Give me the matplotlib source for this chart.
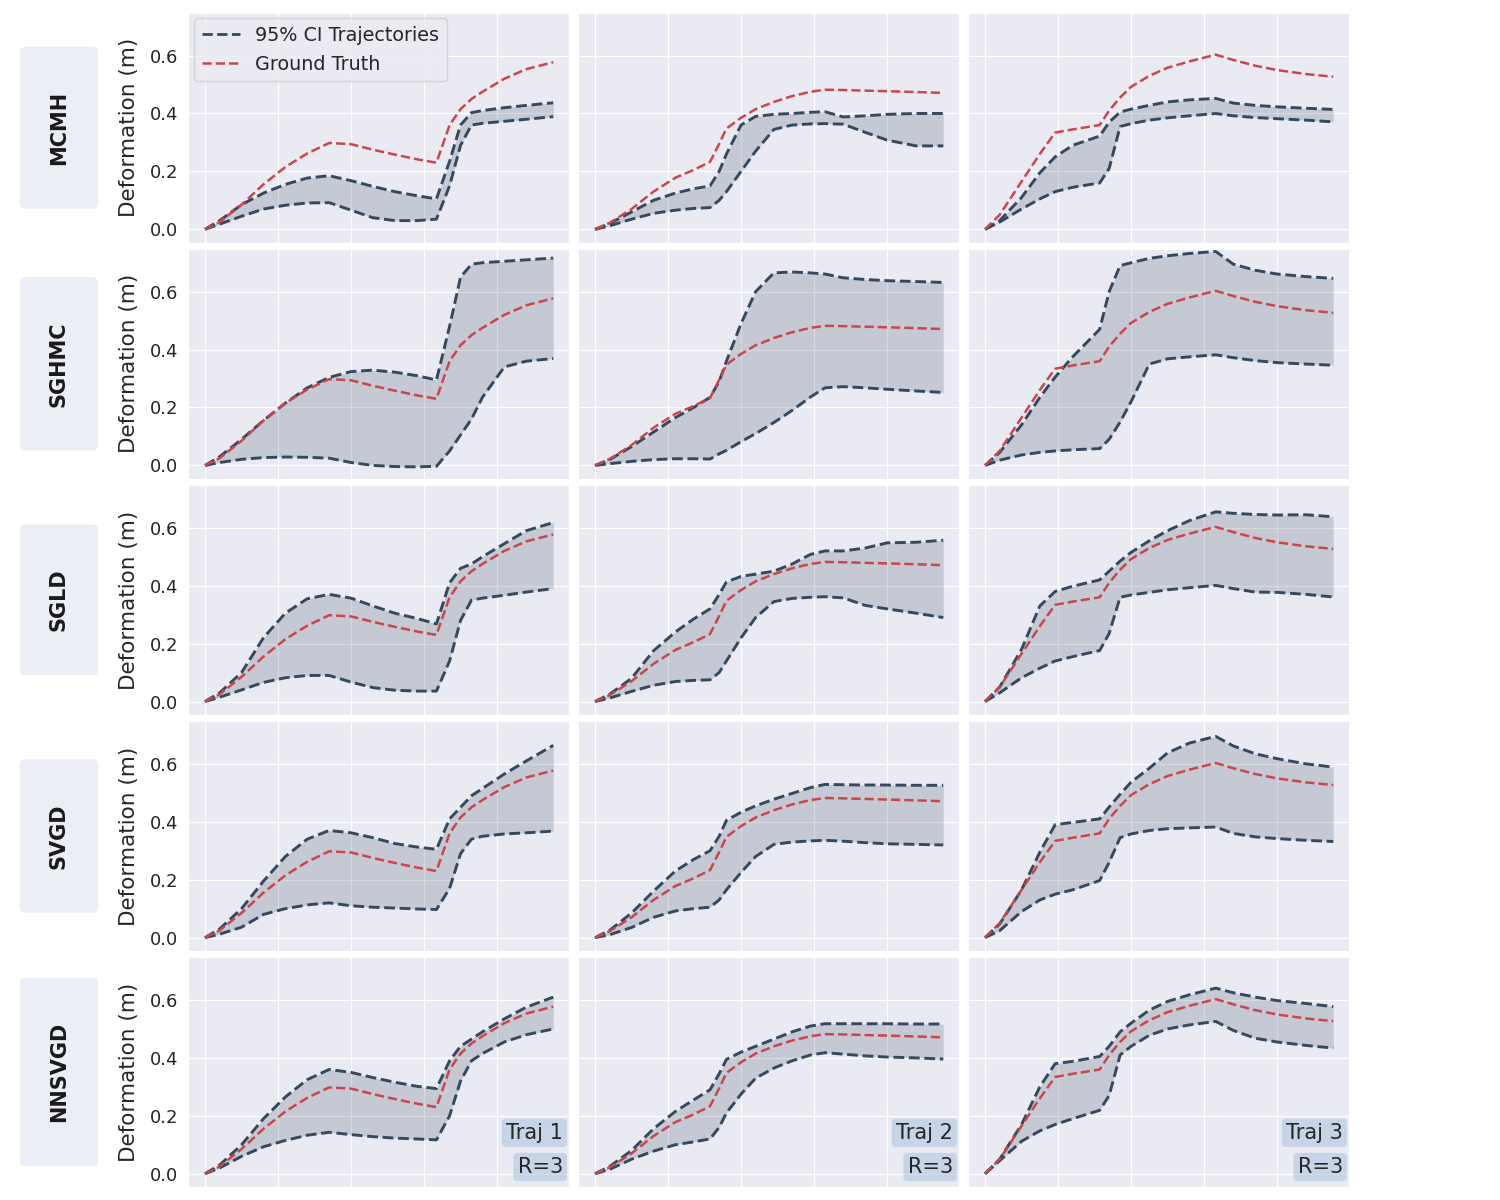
import matplotlib
matplotlib.use("Agg")
import matplotlib.pyplot as plt
import seaborn as sns
from matplotlib.patches import FancyBboxPatch
from matplotlib.lines import Line2D
from matplotlib.ticker import MultipleLocator

# eixo do tempo de cada trajetória (unidades arbitrárias, grade a cada 10)
t1 = [0, 2, 5, 8, 11, 14, 17, 20, 23, 26, 29, 31.7, 33.5, 35, 36.5, 38, 41, 44, 47.7]
t2 = [0, 2, 5, 8, 11, 13.5, 15.75, 17, 18, 20, 22, 24.5, 27, 29.5, 31.5, 34, 37, 40, 44, 47.7]
t3 = [0, 2, 5, 7.5, 9.6, 12, 15.7, 17, 18.5, 20, 22.5, 25, 28, 31.6, 34, 37, 40, 44, 47.7]

# ground truth (igual para todos os métodos)
gt1 = [0, 0.025, 0.085, 0.155, 0.215, 0.262, 0.298, 0.294, 0.275, 0.258, 0.242, 0.23, 0.36, 0.415, 0.45, 0.475, 0.52, 0.553, 0.577]
gt2 = [0, 0.022, 0.07, 0.13, 0.178, 0.205, 0.233, 0.295, 0.348, 0.385, 0.415, 0.44, 0.46, 0.475, 0.482, 0.481, 0.479, 0.477, 0.474, 0.471]
gt3 = [0, 0.05, 0.165, 0.26, 0.334, 0.345, 0.36, 0.41, 0.455, 0.492, 0.53, 0.558, 0.58, 0.603, 0.585, 0.565, 0.55, 0.536, 0.527]

methods = ["MCMH", "SGHMC", "SGLD", "SVGD", "NNSVGD"]

# limites do IC 95% por método: [traj1, traj2, traj3]
mcmh_up = [
    [0, 0.03, 0.085, 0.125, 0.155, 0.177, 0.185, 0.168, 0.148, 0.13, 0.116, 0.105, 0.235, 0.36, 0.403, 0.41, 0.42, 0.428, 0.437],
    [0, 0.02, 0.06, 0.1, 0.125, 0.14, 0.15, 0.2, 0.26, 0.36, 0.39, 0.397, 0.4, 0.404, 0.406, 0.388, 0.392, 0.397, 0.4, 0.4],
    [0, 0.03, 0.11, 0.195, 0.25, 0.29, 0.322, 0.37, 0.405, 0.415, 0.428, 0.44, 0.447, 0.452, 0.436, 0.428, 0.423, 0.418, 0.414],
]
mcmh_lo = [
    [0, 0.018, 0.045, 0.07, 0.083, 0.091, 0.092, 0.066, 0.04, 0.03, 0.03, 0.035, 0.15, 0.29, 0.36, 0.366, 0.373, 0.38, 0.389],
    [0, 0.012, 0.035, 0.055, 0.066, 0.072, 0.075, 0.1, 0.13, 0.2, 0.27, 0.345, 0.36, 0.364, 0.365, 0.363, 0.335, 0.308, 0.288, 0.288],
    [0, 0.025, 0.07, 0.105, 0.13, 0.145, 0.16, 0.21, 0.355, 0.365, 0.377, 0.385, 0.392, 0.4, 0.392, 0.386, 0.382, 0.377, 0.371],
]
sghmc_up = [
    [0, 0.03, 0.09, 0.155, 0.215, 0.268, 0.304, 0.324, 0.329, 0.322, 0.31, 0.295, 0.48, 0.65, 0.695, 0.7, 0.705, 0.71, 0.716],
    [0, 0.02, 0.065, 0.115, 0.165, 0.2, 0.235, 0.29, 0.36, 0.49, 0.6, 0.665, 0.668, 0.665, 0.661, 0.648, 0.642, 0.638, 0.635, 0.632],
    [0, 0.045, 0.14, 0.235, 0.305, 0.375, 0.47, 0.6, 0.69, 0.7, 0.715, 0.724, 0.732, 0.739, 0.695, 0.674, 0.661, 0.652, 0.646],
]
sghmc_lo = [
    [0, 0.01, 0.021, 0.027, 0.029, 0.028, 0.025, 0.01, 0.0, -0.004, -0.005, -0.003, 0.05, 0.105, 0.16, 0.235, 0.34, 0.36, 0.369],
    [0, 0.006, 0.014, 0.02, 0.023, 0.023, 0.022, 0.04, 0.052, 0.082, 0.11, 0.148, 0.19, 0.236, 0.268, 0.272, 0.268, 0.263, 0.257, 0.252],
    [0, 0.018, 0.036, 0.045, 0.05, 0.054, 0.058, 0.09, 0.15, 0.22, 0.35, 0.368, 0.375, 0.382, 0.372, 0.362, 0.355, 0.35, 0.346],
]
sgld_up = [
    [0, 0.03, 0.1, 0.22, 0.305, 0.355, 0.37, 0.357, 0.33, 0.305, 0.287, 0.268, 0.41, 0.46, 0.475, 0.5, 0.545, 0.59, 0.618],
    [0, 0.025, 0.08, 0.175, 0.24, 0.285, 0.32, 0.37, 0.413, 0.432, 0.44, 0.45, 0.475, 0.508, 0.52, 0.52, 0.53, 0.548, 0.55, 0.557],
    [0, 0.05, 0.18, 0.33, 0.38, 0.398, 0.42, 0.45, 0.485, 0.515, 0.555, 0.59, 0.625, 0.655, 0.65, 0.646, 0.644, 0.645, 0.638],
]
sgld_lo = [
    [0, 0.015, 0.04, 0.066, 0.082, 0.09, 0.09, 0.067, 0.048, 0.039, 0.036, 0.036, 0.14, 0.28, 0.35, 0.357, 0.367, 0.378, 0.39],
    [0, 0.012, 0.035, 0.056, 0.069, 0.073, 0.075, 0.1, 0.14, 0.22, 0.29, 0.345, 0.356, 0.36, 0.362, 0.358, 0.332, 0.32, 0.305, 0.29],
    [0, 0.03, 0.082, 0.115, 0.14, 0.155, 0.176, 0.235, 0.36, 0.368, 0.377, 0.386, 0.393, 0.401, 0.39, 0.378, 0.377, 0.37, 0.361],
]
svgd_up = [
    [0, 0.03, 0.1, 0.195, 0.28, 0.34, 0.37, 0.362, 0.345, 0.325, 0.313, 0.305, 0.41, 0.45, 0.49, 0.515, 0.565, 0.61, 0.664],
    [0, 0.025, 0.085, 0.16, 0.23, 0.27, 0.3, 0.35, 0.405, 0.433, 0.455, 0.478, 0.498, 0.518, 0.529, 0.528, 0.527, 0.527, 0.526, 0.526],
    [0, 0.047, 0.165, 0.295, 0.39, 0.398, 0.41, 0.451, 0.495, 0.537, 0.585, 0.638, 0.672, 0.695, 0.662, 0.635, 0.618, 0.6, 0.589],
]
svgd_lo = [
    [0, 0.012, 0.036, 0.08, 0.1, 0.113, 0.12, 0.11, 0.105, 0.102, 0.099, 0.097, 0.17, 0.29, 0.34, 0.35, 0.358, 0.362, 0.368],
    [0, 0.01, 0.035, 0.07, 0.092, 0.1, 0.105, 0.13, 0.165, 0.225, 0.28, 0.322, 0.33, 0.334, 0.336, 0.333, 0.328, 0.324, 0.322, 0.32],
    [0, 0.024, 0.09, 0.13, 0.15, 0.165, 0.197, 0.26, 0.345, 0.358, 0.37, 0.376, 0.379, 0.382, 0.36, 0.348, 0.342, 0.336, 0.332],
]
nnsvgd_up = [
    [0, 0.03, 0.1, 0.19, 0.265, 0.325, 0.36, 0.35, 0.332, 0.316, 0.302, 0.294, 0.39, 0.44, 0.465, 0.49, 0.535, 0.575, 0.61],
    [0, 0.025, 0.08, 0.155, 0.215, 0.255, 0.29, 0.345, 0.395, 0.42, 0.44, 0.465, 0.49, 0.51, 0.518, 0.518, 0.518, 0.518, 0.517, 0.517],
    [0, 0.05, 0.17, 0.3, 0.38, 0.388, 0.405, 0.44, 0.49, 0.52, 0.565, 0.595, 0.618, 0.641, 0.625, 0.61, 0.598, 0.588, 0.577],
]
nnsvgd_lo = [
    [0, 0.02, 0.06, 0.093, 0.115, 0.133, 0.143, 0.135, 0.128, 0.123, 0.12, 0.117, 0.2, 0.32, 0.39, 0.415, 0.455, 0.48, 0.5],
    [0, 0.015, 0.05, 0.078, 0.1, 0.11, 0.12, 0.16, 0.21, 0.275, 0.33, 0.365, 0.39, 0.41, 0.418, 0.413, 0.407, 0.403, 0.4, 0.396],
    [0, 0.045, 0.112, 0.148, 0.17, 0.19, 0.219, 0.27, 0.41, 0.44, 0.478, 0.5, 0.514, 0.526, 0.495, 0.468, 0.455, 0.443, 0.434],
]

tempos = [t1, t2, t3]
truths = [gt1, gt2, gt3]
uppers = [mcmh_up, sghmc_up, sgld_up, svgd_up, nnsvgd_up]
lowers = [mcmh_lo, sghmc_lo, sgld_lo, svgd_lo, nnsvgd_lo]

sns.set_style("darkgrid")
plt.rcParams['font.family'] = ['DejaVu Sans']

cor_ic = '#34495e'
cor_gt = '#cc454b'

fig, axes = plt.subplots(5, 3, figsize=(15, 12), dpi=100, sharex=True, sharey=True)
fig.subplots_adjust(left=0.1255, right=0.8993, top=0.9894, bottom=0.0108,
                    wspace=0.0245, hspace=0.027)

for i in range(5):
    for j in range(3):
        ax = axes[i, j]
        t = tempos[j]
        ax.fill_between(t, lowers[i][j], uppers[i][j], color=cor_ic, alpha=0.2, lw=0)
        ax.plot(t, uppers[i][j], '--', color=cor_ic, lw=2.1)
        ax.plot(t, lowers[i][j], '--', color=cor_ic, lw=2.1)
        ax.plot(t, truths[j], '--', color=cor_gt, lw=1.8)
        ax.set_xlim(-2.3, 49.85)
        ax.set_ylim(-0.046, 0.748)
        ax.xaxis.set_major_locator(MultipleLocator(10))
        ax.yaxis.set_major_locator(MultipleLocator(0.2))
        ax.tick_params(axis='x', labelbottom=False)
        ax.tick_params(axis='y', labelsize=13)
        if j == 0:
            ax.set_ylabel("Deformation (m)", fontsize=15.5, labelpad=8)
        if i == 4:
            caixa = dict(boxstyle='round,pad=0.2', fc='#b0c4de', ec='none', alpha=0.6)
            ax.text(0.984, 0.236, f"Traj {j + 1}", transform=ax.transAxes, ha='right',
                    va='center', fontsize=15, bbox=caixa)
            ax.text(0.984, 0.087, "R=3", transform=ax.transAxes, ha='right',
                    va='center', fontsize=15, bbox=caixa)

handles = [Line2D([], [], ls='--', color=cor_ic, lw=2),
           Line2D([], [], ls='--', color=cor_gt, lw=1.8)]
axes[0, 0].legend(handles, ["95% CI Trajectories", "Ground Truth"], loc='upper left',
                  fontsize=13.8, borderaxespad=0.3)

# rótulos das linhas (métodos) com caixa arredondada
rotulos = []
for i, nome in enumerate(methods):
    pos = axes[i, 0].get_position()
    yc = (pos.y0 + pos.y1) / 2
    txt = fig.text(0.0393, yc, nome, rotation=90, ha='center', va='center',
                   fontsize=15, fontweight='bold', color='#1a1a1a', zorder=5)
    rotulos.append(txt)

fig.canvas.draw()
renderer = fig.canvas.get_renderer()
inv = fig.transFigure.inverted()
for txt in rotulos:
    bb = txt.get_window_extent(renderer)
    cx = (bb.x0 + bb.x1) / 2
    x0, y0 = inv.transform((cx - 39, bb.y0 - 44))
    x1, y1 = inv.transform((cx + 39, bb.y1 + 44))
    patch = FancyBboxPatch((x0, y0), x1 - x0, y1 - y0,
                           boxstyle='round,pad=0,rounding_size=0.004',
                           transform=fig.transFigure, fc='#eceef6', ec='none', zorder=1)
    fig.add_artist(patch)

fig.savefig('out.png', dpi=100)
